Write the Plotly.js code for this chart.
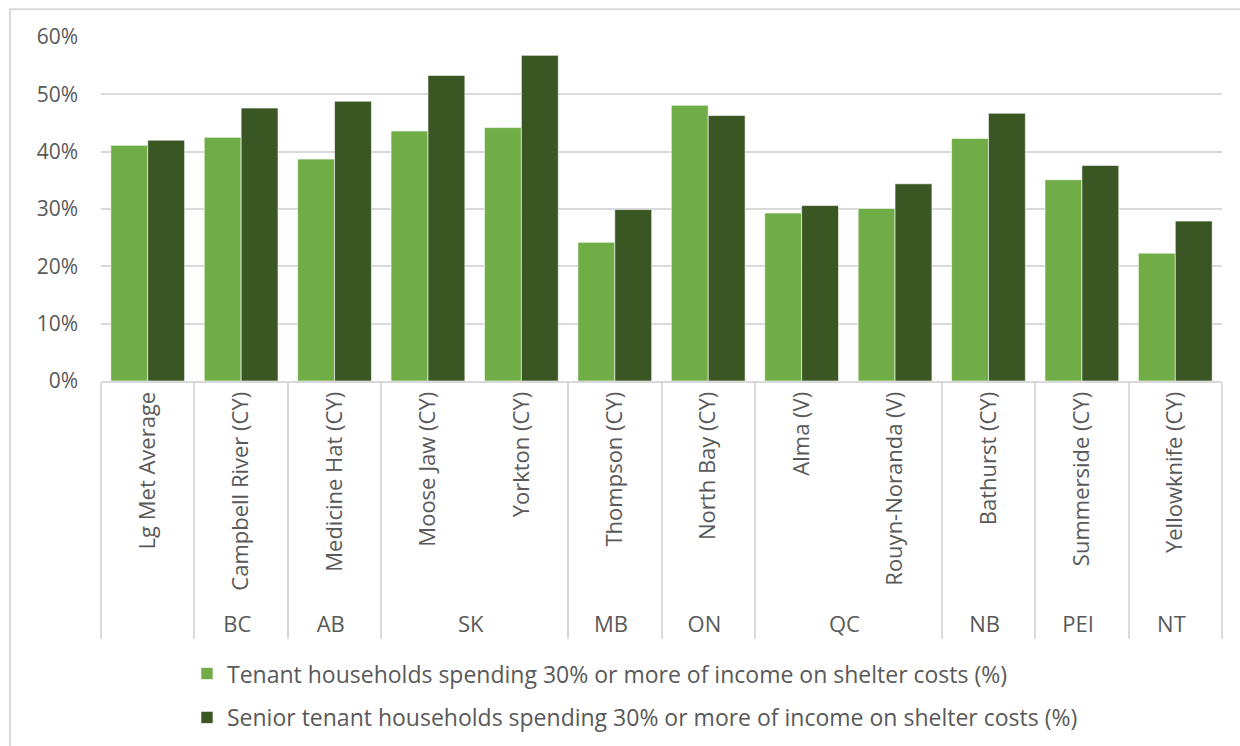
<!DOCTYPE html>
<html><head><meta charset="utf-8">
<script src="https://cdn.plot.ly/plotly-3.0.1.min.js"></script>
<style>html,body{margin:0;padding:0;background:#fff}#chart{width:1240px;height:746px}</style>
</head><body><div id="chart"></div>
<script>
const provinces = [" ", "BC", "AB", "SK", "SK", "MB", "ON", "QC", "QC", "NB", "PEI", "NT"];
const cities = ["Lg Met Average", "Campbell River (CY)", "Medicine Hat (CY)", "Moose Jaw (CY)", "Yorkton (CY)", "Thompson (CY)", "North Bay (CY)", "Alma (V)", "Rouyn-Noranda (V)", "Bathurst (CY)", "Summerside (CY)", "Yellowknife (CY)"];
const tenantPct = [41.1, 42.5, 38.7, 43.6, 44.2, 24.2, 48.1, 29.3, 30.1, 42.3, 35.1, 22.3];
const seniorPct = [42.0, 47.6, 48.8, 53.3, 56.8, 29.9, 46.3, 30.6, 34.4, 46.7, 37.6, 27.9];
const seriesNames = ["Tenant households spending 30% or more of income on shelter costs (%)", "Senior tenant households spending 30% or more of income on shelter costs (%)"];
const yTicks = [0, 10, 20, 30, 40, 50, 60];

const FONT = "'Open Sans', Lato, sans-serif";
const GREY = "#595959";
const traces = [
  {type: "bar", name: seriesNames[0], x: [provinces, cities], y: tenantPct, legendgroup: "a",
   marker: {color: "#70AD47", line: {color: "#ffffff", width: 0.6}}},
  {type: "bar", name: seriesNames[1], x: [provinces, cities], y: seniorPct, legendgroup: "b",
   marker: {color: "#3A5723", line: {color: "#ffffff", width: 0.6}}}
];
const layout = {
  width: 1240, height: 746,
  margin: {l: 101, r: 18, t: 37, b: 365, autoexpand: false},
  paper_bgcolor: "#ffffff", plot_bgcolor: "#ffffff",
  font: {family: FONT, color: GREY, size: 21},
  barmode: "group", bargap: 0.21, bargroupgap: 0,
  showlegend: true,
  legend: {x: 0.0767, xanchor: "left", y: -0.788, yanchor: "top", orientation: "v",
           traceorder: "grouped", tracegroupgap: 11, font: {size: 23, color: GREY, family: FONT}},
  xaxis: {type: "multicategory", automargin: false, tickangle: -90, showgrid: false, showline: true, linecolor: "#D9D9D9", linewidth: 2,
          ticks: "", showdividers: true, dividercolor: "#D9D9D9", dividerwidth: 2,
          tickfont: {family: FONT, size: 22, color: GREY}},
  yaxis: {range: [0, 60], automargin: false, tickvals: yTicks, ticktext: yTicks.map(v => v + "%"), showgrid: true, gridcolor: "#D9D9D9", gridwidth: 2,
          zeroline: false, showline: false, ticks: "", ticklen: 0, ticklabelstandoff: 22,
          tickfont: {family: FONT, size: 21, color: GREY}},
  shapes: [
    {type: "rect", xref: "paper", yref: "paper", x0: -0.0812, x1: 1.03, y0: -1.2, y1: 1.081,
     line: {color: "#D9D9D9", width: 2}, fillcolor: "rgba(0,0,0,0)", layer: "below"}
  ]
};
Plotly.newPlot("chart", traces, layout, {displayModeBar: false, staticPlot: true});
</script></body></html>
